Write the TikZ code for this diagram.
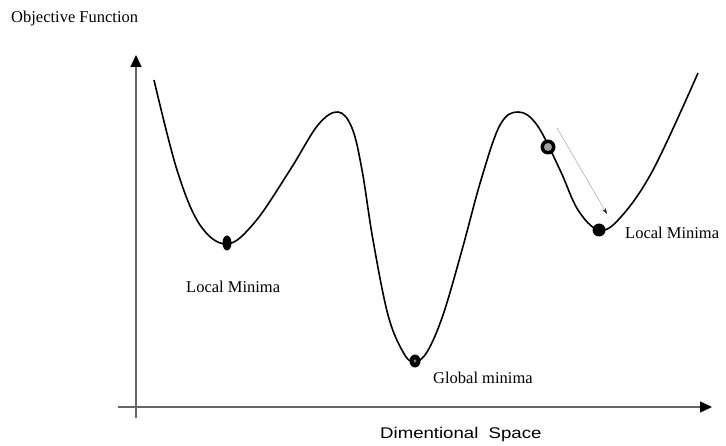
\documentclass[tikz,border=0pt]{standalone}
\usepackage{fontspec}
\setmainfont{Liberation Serif}
\setsansfont{Liberation Sans}
\usetikzlibrary{arrows.meta}

\tikzset{
  axis/.style={draw=gray!80!black, line width=1.3bp, -{Triangle[length=12bp,width=11bp,color=black]}},
  label/.style={anchor=base west, inner sep=0pt, font=\fontsize{16.5bp}{18bp}\selectfont},
  slide/.style={draw=gray!60, line width=0.6bp, -{Stealth[length=6bp,width=4bp,color=gray!30!black]}}
}

\begin{document}
\begin{tikzpicture}[x=1bp,y=-1bp,>=Stealth]
  \useasboundingbox (0,0) rectangle (726,446);

  % axes
  \coordinate (ybot) at (136,418);
  \coordinate (ytop) at (136,55);
  \coordinate (xleft) at (118,407);
  \coordinate (xright) at (712,407);
  \draw[axis] (ybot) -- (ytop);
  \draw[axis] (xleft) -- (xright);

  % the objective function
  \draw[line width=1.6bp, line join=round] plot[smooth, tension=0.6] coordinates {
    (154,80) (177,170) (200,225) (227,244) (255,222) (290,170) (318,125)
    (338,112) (352,128) (362,170) (373,240) (388,315) (403,352) (414,362)
    (427,352) (443,315) (462,250) (481,180) (500,125) (518,112) (537,125)
    (560,170) (578,210) (599,230) (620,218) (653,170) (698,73)};

  % balls
  \fill (227,243) ellipse [x radius=4.5, y radius=7.5];
  \fill (415,361) ellipse [x radius=5.5, y radius=6.5];
  \fill[gray] (415,361) circle (1.6);
  \fill (548,147) circle (7.5);
  \fill[gray!75] (548,147) circle (4);
  \fill (599,230) circle (6.5);

  % rolling down
  \coordinate (start) at (557,128);
  \coordinate (stop) at (607,214);
  \draw[slide] (start) -- (stop);

  % labels
  \node[label] (obj) at (11,23) {Objective Function};
  \node[label] (lmin) at (186,293) {Local Minima};
  \node[label] (gmin) at (433,383) {Global minima};
  \node[label] (rmin) at (625,239) {Local Minima};
  \node[label, font=\sffamily\fontsize{15.5bp}{18bp}\selectfont] (space) at (380,438)
    {\scalebox{1.2}[1]{Dimentional\ \ Space}};
\end{tikzpicture}
\end{document}
